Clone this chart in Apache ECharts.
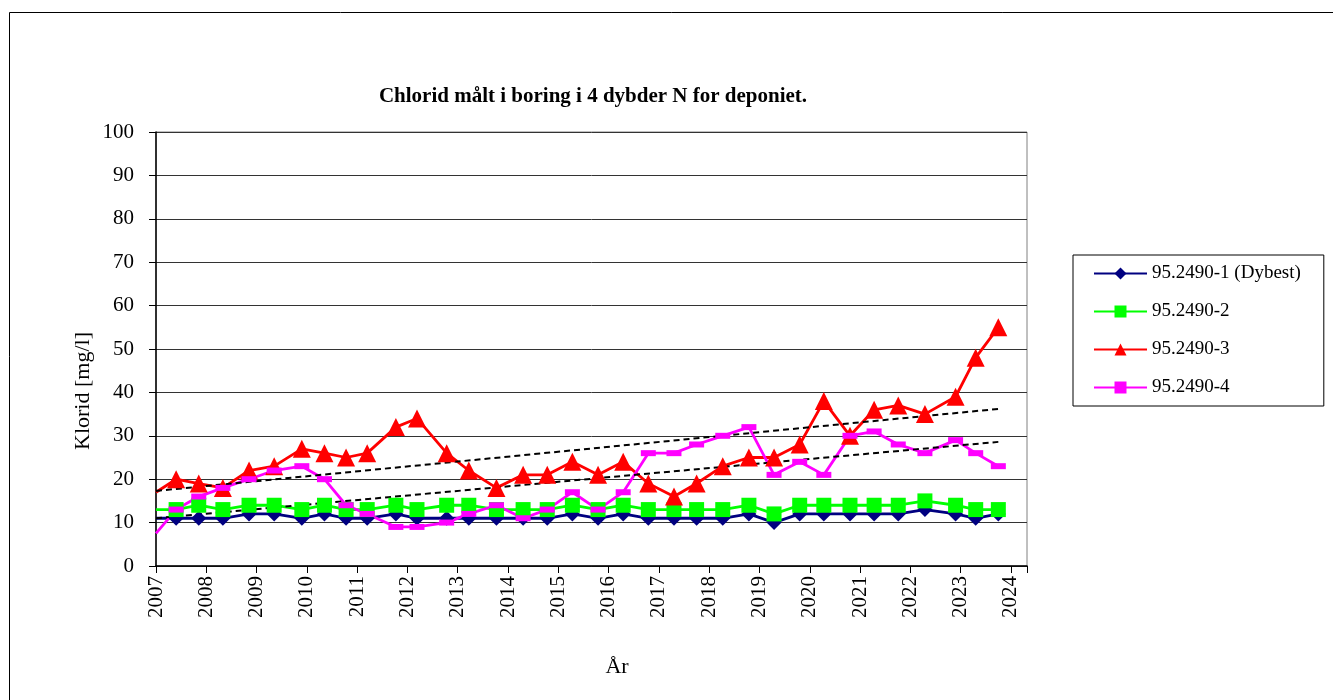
<!DOCTYPE html>
<html lang="da">
<head>
    <meta charset="UTF-8"/>
    <script src="https://cdn.jsdelivr.net/npm/echarts@6/dist/echarts.min.js"></script>
    <title>Chlorid</title>
</head>
<body style="margin:0;background:#fff">
<div id="main" style="width: 1333px;height:700px;"></div>
<script type="text/javascript">
    // datoer (decimalår) for prøvetagningerne
    var dates = [2007.0, 2007.40, 2007.85, 2008.33, 2008.85, 2009.35, 2009.90, 2010.35, 2010.78, 2011.20,
        2011.77, 2012.19, 2012.78, 2013.22, 2013.77, 2014.30, 2014.78, 2015.28, 2015.79, 2016.29,
        2016.79, 2017.30, 2017.75, 2018.27, 2018.79, 2019.29, 2019.80, 2020.28, 2020.80, 2021.28,
        2021.76, 2022.29, 2022.90, 2023.30, 2023.75];

    var boring1 = [11, 11, 11, 11, 12, 12, 11, 12, 11, 11, 12, 11, 11,
        11, 11, 11, 11, 12, 11, 12, 11, 11, 11, 11,
        12, 10, 12, 12, 12, 12, 12, 13, 12, 11, 12];
    var boring2 = [13, 13, 14, 13, 14, 14, 13, 14, 13, 13, 14, 13, 14,
        14, 13, 13, 13, 14, 13, 14, 13, 13, 13, 13,
        14, 12, 14, 14, 14, 14, 14, 15, 14, 13, 13];
    var boring3 = [17, 20, 19, 18, 22, 23, 27, 26, 25, 26, 32, 34, 26,
        22, 18, 21, 21, 24, 21, 24, 19, 16, 19, 23,
        25, 25, 28, 38, 30, 36, 37, 35, 39, 48, 55];
    var boring4 = [7.5, 13, 16, 18, 20, 22, 23, 20, 14, 12, 9, 9, 10,
        12, 14, 11, 13, 17, 13, 17, 26, 26, 28, 30,
        32, 21, 24, 21, 30, 31, 28, 26, 29, 26, 23];

    // lineære tendenslinjer (endepunkter aflæst)
    var trend3 = [[2007.0, 17.3], [2023.75, 36.2]];
    var trend4 = [[2007.0, 11.0], [2023.75, 28.6]];

    var names = ['95.2490-1 (Dybest)', '95.2490-2', '95.2490-3', '95.2490-4'];
    var yTicks = {min: 0, max: 100, step: 10};

    var serif = '"Times New Roman", "Liberation Serif", serif';

    function pairs(vals) {
        var out = [];
        for (var i = 0; i < dates.length; i++) {
            if (i === 0) {
                // første punkt ligger på aksen, uden markør
                out.push({value: [dates[i], vals[i]], symbol: 'none'});
            } else {
                out.push([dates[i], vals[i]]);
            }
        }
        return out;
    }

    var myChart = echarts.init(document.getElementById('main'));

    var option = {
        backgroundColor: '#FFFFFF',
        animation: false,
        title: {
            text: 'Chlorid målt i boring i 4 dybder N for deponiet.',
            left: 588,
            top: 81,
            textAlign: 'center',
            textStyle: {fontFamily: serif, fontWeight: 'bold', fontSize: 21, color: '#000'}
        },
        legend: {
            data: names,
            orient: 'vertical',
            left: 1073,
            top: 255,
            itemWidth: 53,
            itemHeight: 15,
            itemGap: 19,
            padding: [9, 23, 9, 20],
            borderColor: '#000',
            borderWidth: 1,
            textStyle: {fontFamily: serif, fontSize: 19, color: '#000'}
        },
        grid: {
            left: 156,
            top: 132,
            width: 871,
            height: 434,
            show: true,
            borderColor: '#808080',
            borderWidth: 1
        },
        xAxis: {
            type: 'value',
            min: 2007,
            max: 2024.32,
            interval: 1,
            axisLine: {lineStyle: {color: '#000', width: 1.5}},
            axisTick: {length: 7, lineStyle: {color: '#000'}},
            splitLine: {show: false},
            axisLabel: {
                rotate: 90,
                margin: 10,
                color: '#000',
                fontFamily: serif,
                fontSize: 21,
                formatter: function (v) {
                    return Math.abs(v - Math.round(v)) < 1e-6 ? String(Math.round(v)) : '';
                }
            }
        },
        yAxis: {
            type: 'value',
            min: yTicks.min,
            max: yTicks.max,
            interval: yTicks.step,
            axisLine: {show: true, lineStyle: {color: '#000', width: 1.5}},
            axisTick: {show: true, length: 7, lineStyle: {color: '#000'}},
            splitLine: {lineStyle: {color: '#333', width: 1}},
            axisLabel: {margin: 22, color: '#000', fontFamily: serif, fontSize: 21}
        },
        graphic: [
            {
                type: 'rect',
                shape: {x: 9.5, y: 12.5, width: 1400, height: 800},
                style: {fill: null, stroke: '#000', lineWidth: 1},
                silent: true
            },
            {
                type: 'text',
                x: 83,
                y: 391,
                rotation: Math.PI / 2,
                style: {
                    text: 'Klorid [mg/l]', fill: '#000', font: '22px ' + serif,
                    textAlign: 'center', textVerticalAlign: 'middle'
                }
            },
            {
                type: 'text',
                x: 617,
                y: 667,
                style: {
                    text: 'År', fill: '#000', font: '22px ' + serif,
                    textAlign: 'center', textVerticalAlign: 'middle'
                }
            }
        ],
        series: [
            {
                name: names[0], type: 'line', data: pairs(boring1),
                symbol: 'diamond', symbolSize: 15,
                lineStyle: {color: '#000080', width: 2.8},
                itemStyle: {color: '#000080'}
            },
            {
                name: names[1], type: 'line', data: pairs(boring2),
                symbol: 'rect', symbolSize: 15,
                lineStyle: {color: '#00FF00', width: 2.8},
                itemStyle: {color: '#00FF00'}
            },
            {
                name: names[2], type: 'line', data: pairs(boring3),
                symbol: 'triangle', symbolSize: 18,
                lineStyle: {color: '#FF0000', width: 2.8},
                itemStyle: {color: '#FF0000'}
            },
            {
                name: names[3], type: 'line', data: pairs(boring4),
                symbol: 'rect', symbolSize: [15, 6],
                lineStyle: {color: '#FF00FF', width: 2.8},
                itemStyle: {color: '#FF00FF'}
            },
            {
                name: 'trend3', type: 'line', data: trend3, symbol: 'none', silent: true,
                lineStyle: {color: '#000', width: 2, type: [6, 4]}
            },
            {
                name: 'trend4', type: 'line', data: trend4, symbol: 'none', silent: true,
                lineStyle: {color: '#000', width: 2, type: [6, 4]}
            }
        ]
    };

    myChart.setOption(option);
</script>
</body>
</html>
